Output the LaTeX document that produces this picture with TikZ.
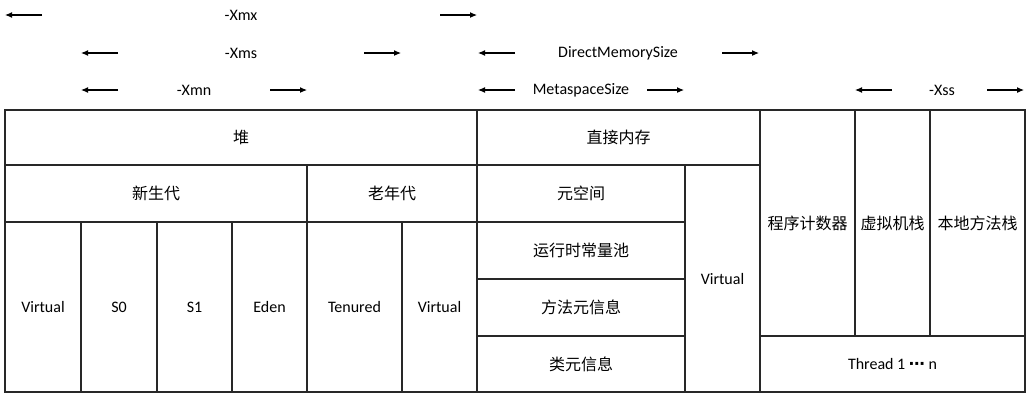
\documentclass[tikz,border=0pt]{standalone}
\usepackage{fontspec}
\setmainfont{Carlito}
\newfontfamily\cjk{Noto Sans CJK SC}
\newfontfamily\dejavu{DejaVu Sans}
\usetikzlibrary{arrows.meta}
\definecolor{linec}{RGB}{40,40,40}
\begin{document}
\begin{tikzpicture}[x=1pt,y=-1pt,
  cell/.style={draw=linec, line width=1.1pt, inner sep=0pt, font=\fontsize{16}{19}\selectfont},
  cn/.style={font=\cjk\fontsize{16}{19}\selectfont},
  lbl/.style={inner sep=0pt, font=\fontsize{16}{19}\selectfont},
  arr/.style={line width=1.1pt, draw=black, -{Latex[length=7pt,width=6pt]}}]
\useasboundingbox (0,0) rectangle (1030,400);
% ---------- heap ----------
\node[cell,cn, minimum width=472pt, minimum height=55pt] (heap) at (241,137.5) {堆};
\node[cell,cn, minimum width=302pt, minimum height=57pt] (young) at (156,193.5) {新生代};
\node[cell,cn, minimum width=170pt, minimum height=57pt] (old) at (392,193.5) {老年代};
\node[cell, minimum width=76pt, minimum height=170pt] (virt1) at (43,307) {Virtual};
\node[cell, minimum width=76pt, minimum height=170pt] (s0) at (119,307) {S0};
\node[cell, minimum width=75pt, minimum height=170pt] (s1) at (194.5,307) {S1};
\node[cell, minimum width=75pt, minimum height=170pt] (eden) at (269.5,307) {Eden};
\node[cell, minimum width=95pt, minimum height=170pt] (tenured) at (354.5,307) {Tenured};
\node[cell, minimum width=75pt, minimum height=170pt] (virt2) at (439.5,307) {Virtual};
% ---------- direct memory ----------
\node[cell,cn, minimum width=283pt, minimum height=55pt] (direct) at (618.5,137.5) {直接内存};
\node[cell,cn, minimum width=208pt, minimum height=57pt] (meta) at (581,193.5) {元空间};
\node[cell,cn, minimum width=208pt, minimum height=57pt] (pool) at (581,250.5) {运行时常量池};
\node[cell,cn, minimum width=208pt, minimum height=57pt] (method) at (581,307.5) {方法元信息};
\node[cell,cn, minimum width=208pt, minimum height=56pt] (klass) at (581,364) {类元信息};
\node[cell, minimum width=75pt, minimum height=227pt] (virt3) at (722.5,278.5) {Virtual};
% ---------- thread ----------
\node[cell,cn, minimum width=95pt, minimum height=226pt] (pc) at (807.5,223) {程序计数器};
\node[cell,cn, minimum width=75pt, minimum height=226pt] (vms) at (892.5,223) {虚拟机栈};
\node[cell,cn, minimum width=95pt, minimum height=226pt] (nms) at (977.5,223) {本地方法栈};
\node[cell, minimum width=265pt, minimum height=56pt] (thread) at (892.5,364) {Thread 1 {\dejavu\bfseries ⋯} n};
% ---------- size arrows ----------
\node[lbl] (xmx) at (241,15) {-Xmx};
\coordinate (xmxa) at (42,15);  \coordinate (xmxb) at (5,15);
\coordinate (xmxc) at (440,15); \coordinate (xmxd) at (477,15);
\draw[arr] (xmxa) -- (xmxb);
\draw[arr] (xmxc) -- (xmxd);

\node[lbl] (xms) at (241,53) {-Xms};
\coordinate (xmsa) at (118,53); \coordinate (xmsb) at (81,53);
\coordinate (xmsc) at (364,53); \coordinate (xmsd) at (401,53);
\draw[arr] (xmsa) -- (xmsb);
\draw[arr] (xmsc) -- (xmsd);

\node[lbl] (dms) at (618,53) {DirectMemorySize};
\coordinate (dmsa) at (515,53); \coordinate (dmsb) at (478,53);
\coordinate (dmsc) at (722,53); \coordinate (dmsd) at (759,53);
\draw[arr] (dmsa) -- (dmsb);
\draw[arr] (dmsc) -- (dmsd);

\node[lbl] (xmn) at (194,90) {-Xmn};
\coordinate (xmna) at (118,90); \coordinate (xmnb) at (81,90);
\coordinate (xmnc) at (270,90); \coordinate (xmnd) at (307,90);
\draw[arr] (xmna) -- (xmnb);
\draw[arr] (xmnc) -- (xmnd);

\node[lbl] (mss) at (581,90) {MetaspaceSize};
\coordinate (mssa) at (515,90); \coordinate (mssb) at (478,90);
\coordinate (mssc) at (647,90); \coordinate (mssd) at (684,90);
\draw[arr] (mssa) -- (mssb);
\draw[arr] (mssc) -- (mssd);

\node[lbl] (xss) at (942,90) {-Xss};
\coordinate (xssa) at (892,90); \coordinate (xssb) at (855,90);
\coordinate (xssc) at (987,90); \coordinate (xssd) at (1024,90);
\draw[arr] (xssa) -- (xssb);
\draw[arr] (xssc) -- (xssd);
\end{tikzpicture}
\end{document}
